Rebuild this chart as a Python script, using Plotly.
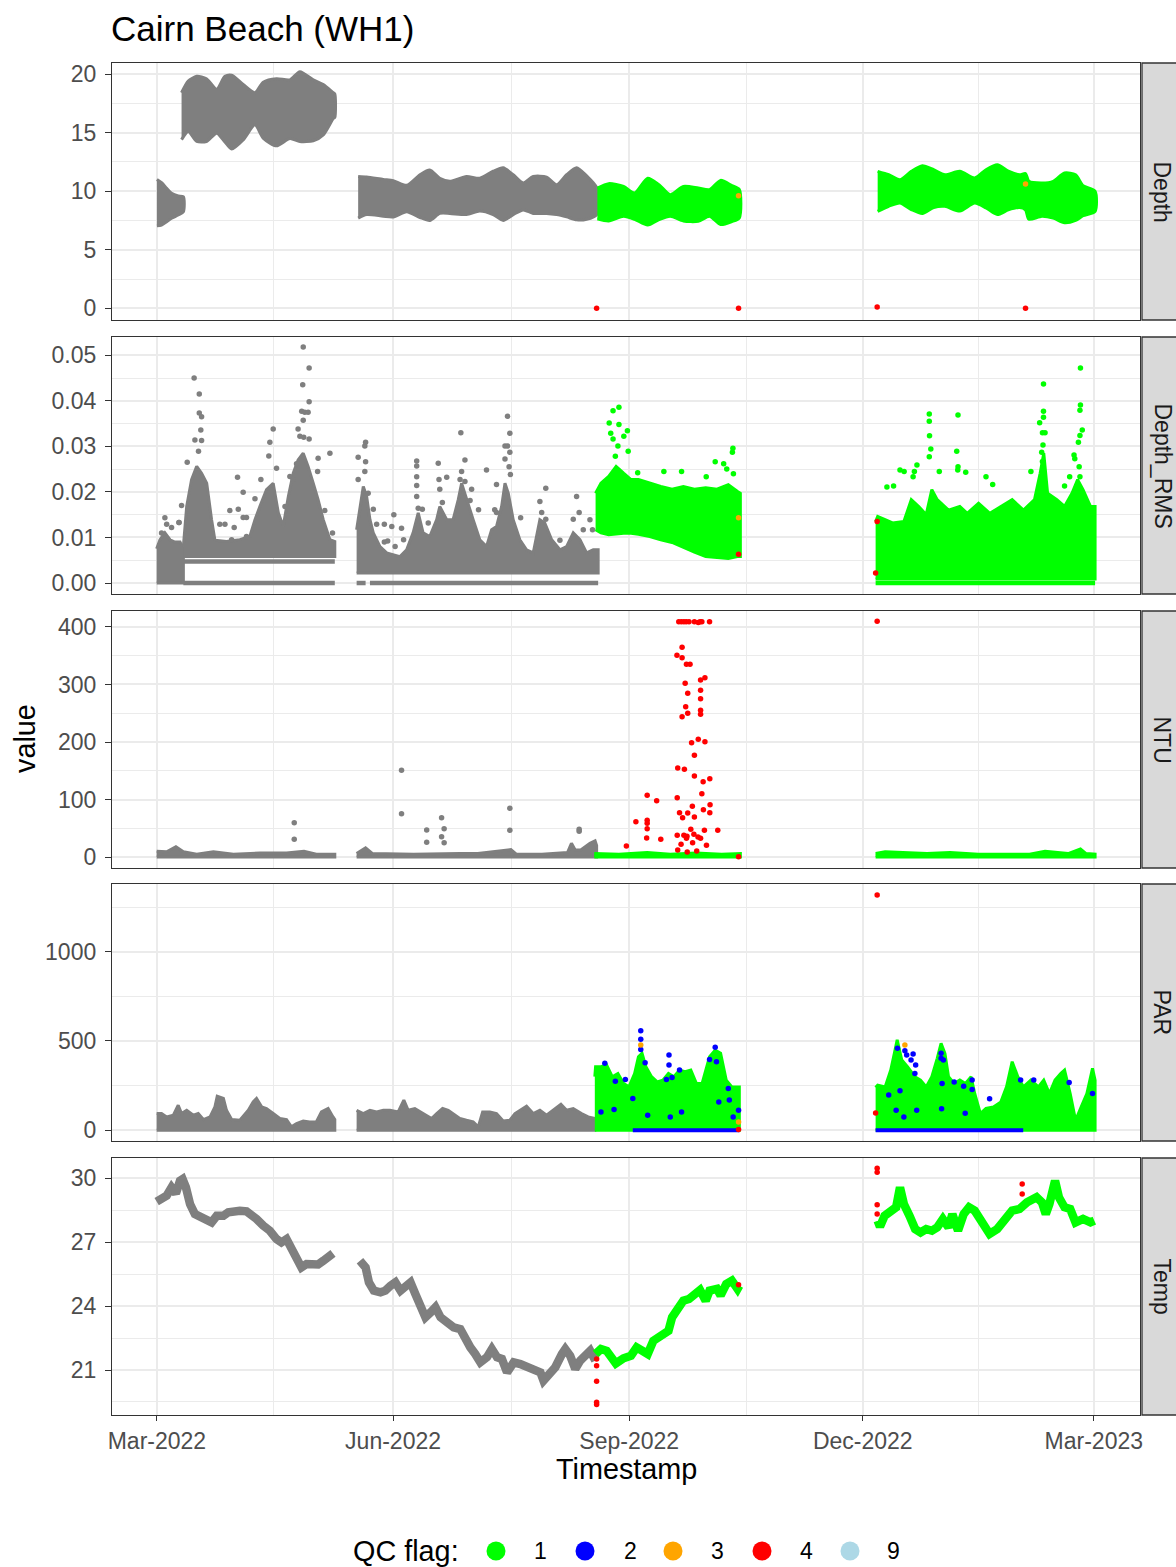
import numpy as np
import pandas as pd
import plotly.graph_objects as go
from plotly.subplots import make_subplots

BASE = pd.Timestamp("2022-03-01")


def dt(days):
    idx = BASE + pd.to_timedelta(np.asarray(days, dtype=float), unit="D")
    return list(idx.strftime("%Y-%m-%d %H:%M:%S"))


GREY = "#7F7F7F"
FLAG_COLORS = {"1": "#00FF00", "2": "#0000FF", "3": "#FFA500", "4": "#FF0000", "9": "#ADD8E6"}
G1, B2, O3, R4 = FLAG_COLORS["1"], FLAG_COLORS["2"], FLAG_COLORS["3"], FLAG_COLORS["4"]

facets = ["Depth", "Depth_RMS", "NTU", "PAR", "Temp"]

# ---------------- Depth (days since 2022-03-01, low / high envelope) ----------------
depth_a_day = [0, 1.8, 3.8, 5.7, 8.3, 10.3]
depth_a_lo = [7.05, 7.1, 7.39, 7.68, 7.96, 8.24]
depth_a_hi = [11.0, 10.72, 10.24, 9.81, 9.58, 9.52]

depth_a2_day = [9.6, 12.2, 15.5, 19.3, 23.3, 26.5, 29.1, 33.6, 38.2, 41.4, 46.6, 51.8, 55.7, 60.9, 64.8, 68.7, 69.3]
depth_a2_lo = [14.4, 15.1, 14.24, 14.24, 14.95, 14.2, 13.6, 14.38, 15.66, 14.53, 13.87, 14.5, 14.24, 14.3, 14.8, 16.2, 16.3]
depth_a2_hi = [18.4, 19.4, 19.8, 19.6, 18.7, 19.8, 19.9, 19.1, 18.4, 19.3, 19.6, 19.5, 20.2, 19.5, 19.1, 18.4, 18.3]

depth_b_day = [78.4, 81.7, 88.2, 92.1, 97.3, 102.5, 106.3, 110.2, 114.1, 120.6, 125.8, 131, 134.9, 138.8,
               142.7, 146.6, 151.8, 155.7, 159.6, 163.5, 167.4, 171.3]
depth_b_lo = [7.7, 8.0, 7.86, 7.8, 8.25, 7.75, 7.5, 8.1, 8.1, 8.0, 8.3, 8.0, 7.5, 8.0, 8.4, 8.1, 8.1, 8.0,
              7.8, 7.55, 7.6, 8.0]
depth_b_hi = [11.25, 11.2, 11.0, 10.9, 10.5, 11.4, 11.8, 11.1, 10.85, 11.25, 11.1, 11.7, 12.0, 11.4, 10.7,
              11.25, 11.2, 10.55, 11.4, 12.0, 11.3, 10.3]

depth_c_day = [171.6, 176, 181.8, 186.1, 191.2, 195.6, 200, 205.1, 210.9, 215.3, 219.6, 224, 226.9]
depth_c_lo = [7.63, 7.45, 7.86, 7.6, 7.1, 7.57, 7.86, 7.45, 7.43, 7.86, 7.15, 7.4, 7.72]
depth_c_hi = [10.27, 10.64, 10.4, 9.84, 11.1, 10.55, 9.7, 10.4, 10.27, 10.13, 10.92, 10.47, 10.13]

depth_d_day = [280.8, 285.1, 289.5, 293.9, 298.2, 302.6, 307, 312.8, 318.6, 323, 327.4, 331.7, 336.1, 338.4,
               339.7, 344.8, 349.2, 353.6, 357.9, 360.8, 365.5]
depth_d_lo = [8.28, 8.71, 8.99, 8.43, 8.09, 8.6, 8.7, 8.3, 8.99, 8.57, 8.0, 8.4, 8.6, 8.4, 7.6, 7.86, 7.7,
              7.3, 7.5, 7.9, 8.28]
depth_d_hi = [11.69, 11.4, 10.98, 11.69, 12.17, 11.83, 11.4, 11.69, 11.12, 11.83, 12.26, 11.7, 11.4, 11.5,
              10.85, 10.7, 10.84, 11.55, 11.4, 10.47, 9.98]

depth_red_day = [171.3, 226.6, 280.6, 338.4]
depth_red_val = [0.0, 0.0, 0.1, 0.0]
depth_orange_day = [226.6, 338.4]
depth_orange_val = [9.6, 10.6]

# ---------------- Depth_RMS ----------------
rms_a_day = [-0.1, 1.2, 3.1, 5.1, 7.0, 9.0, 10.3]
rms_a_hi = [0.0075, 0.0095, 0.011, 0.0095, 0.009, 0.009, 0.0075]
rms_a_pts_day = [1.8, 3.1, 3.8, 5.7, 8.6]
rms_a_pts_val = [0.0110, 0.0143, 0.0129, 0.0122, 0.0133]

rms_a2_span = [10.3, 69.3]
rms_a2_levels = [0.0, 0.0047]
rms_a2_day = [10.3, 11.6, 13.5, 15.5, 17.4, 19.4, 21.3, 22.6, 27.1, 32.3, 36.2, 38.2, 40.1, 42.7, 45.3, 47.3,
              49.2, 51.2, 53.1, 55, 57, 58.9, 60.9, 62.8, 64.8, 67.4, 69.3]
rms_a2_hi = [0.008, 0.0168, 0.0227, 0.0256, 0.0241, 0.0219, 0.0139, 0.0094, 0.0091, 0.0095, 0.0102, 0.0139,
             0.0168, 0.0205, 0.0219, 0.0154, 0.0124, 0.019, 0.0241, 0.027, 0.0285, 0.0256, 0.0219, 0.0183,
             0.0139, 0.0095, 0.0091]
rms_a2_lo = 0.0058
rms_a2_pts_day = [14.5, 16.5, 16.5, 17.4, 17.1, 14.8, 17.4, 16.2, 11.8, 9.6, 8.6, 31.4, 33.6, 28.4, 31.7, 33.6,
                  34.9, 24.5, 26.5, 30.1, 29.1, 34.9, 45.3, 44.0, 46.6, 43.6, 40.5, 38.2, 49.9, 51.8, 55.0,
                  55.7, 56.8, 57.0, 59.3, 56.4, 57.6, 57.0, 59.3, 58.9, 59.3, 57.2, 62.8, 62.6, 65.4, 67.4,
                  68.4, 53.1, 54.4]
rms_a2_pts_val = [0.045, 0.0415, 0.0373, 0.0365, 0.0336, 0.0314, 0.0313, 0.0289, 0.0265, 0.017, 0.0133,
                  0.0232, 0.0199, 0.0159, 0.0162, 0.0144, 0.0144, 0.0129, 0.0129, 0.0122, 0.0095, 0.0102,
                  0.0338, 0.0309, 0.0252, 0.0279, 0.0227, 0.0185, 0.0168, 0.0234, 0.0338, 0.0322, 0.0435,
                  0.0518, 0.0472, 0.0377, 0.0375, 0.0357, 0.0398, 0.0375, 0.0316, 0.032, 0.0274, 0.0245,
                  0.0159, 0.0285, 0.011, 0.0227, 0.0262]

rms_b_base = [[77.8, 81.3], [83.0, 171.9]]
rms_b_day = [77.8, 79.1, 80.4, 81.7, 83, 84.3, 86.9, 89.5, 92.1, 94.7, 97.3, 99.8, 101.8, 103.7, 106.3, 109,
             110.2, 112.9, 115.4, 117.4, 118.7, 120.6, 123.2, 125.8, 128.4, 130.4, 132.3, 134.3, 135.6,
             136.9, 138.8, 141.4, 144, 146.6, 149.2, 151.1, 153.8, 157, 159.6, 162.2, 164.8, 167.4, 170,
             171.9]
rms_b_hi = [0.0117, 0.0168, 0.0212, 0.0190, 0.0139, 0.011, 0.008, 0.0066, 0.0062, 0.0058, 0.0073, 0.011,
            0.0154, 0.011, 0.0102, 0.0139, 0.0168, 0.0139, 0.0139, 0.0183, 0.0219, 0.0183, 0.0139, 0.0095,
            0.008, 0.0117, 0.0124, 0.0168, 0.0219, 0.0197, 0.0139, 0.0095, 0.0073, 0.0066, 0.0139, 0.0132,
            0.0095, 0.0073, 0.008, 0.011, 0.0095, 0.0066, 0.0073, 0.0073]
rms_b_lo = 0.0022
rms_b_pts_day = [81.3, 81.0, 78.4, 81.3, 78.4, 81.0, 82.3, 84.3, 85.6, 88.6, 92.3, 91.5, 95.3, 88.6, 89.9,
                 92.8, 96.1, 101.2, 101.2, 101.2, 101.2, 101.2, 101.8, 103.4, 105.7, 109.6, 109.9, 112.9,
                 110.2, 111.2, 118.4, 120.0, 118.7, 118.1, 120.0, 122.6, 122.0, 125.3, 128.4, 132.3, 131.6,
                 132.3, 136.6, 137.5, 135.6, 136.6, 137.5, 135.6, 137.2, 137.7, 141.7, 151.5, 149.2, 149.9,
                 151.5, 157.0, 163.5, 164.5, 162.2, 166.1, 168.7, 169.7]
rms_b_pts_val = [0.0309, 0.0301, 0.0276, 0.0266, 0.0227, 0.0245, 0.0197, 0.0162, 0.0129, 0.0129, 0.015,
                 0.0124, 0.012, 0.009, 0.0092, 0.008, 0.0095, 0.0268, 0.0257, 0.0233, 0.0214, 0.019, 0.0164,
                 0.0162, 0.0132, 0.0263, 0.0227, 0.0232, 0.0206, 0.0177, 0.033, 0.027, 0.0245, 0.0227,
                 0.0223, 0.0206, 0.0181, 0.0161, 0.0248, 0.0216, 0.0161, 0.0155, 0.0366, 0.0329, 0.0301,
                 0.0301, 0.0287, 0.0272, 0.0255, 0.0238, 0.0143, 0.0208, 0.0179, 0.0155, 0.014, 0.0094,
                 0.019, 0.0155, 0.014, 0.0117, 0.0139, 0.0117]

rms_c_day = [170.9, 173.0, 176.0, 178.9, 181.8, 184.7, 187.6, 192.0, 196.3, 200.7, 205.1, 209.4, 213.8,
             218.2, 222.6, 226.2, 227.3]
rms_c_lo = [0.0117, 0.011, 0.0106, 0.0108, 0.0109, 0.0109, 0.0107, 0.0102, 0.0095, 0.0089, 0.0078, 0.0068,
            0.0058, 0.0056, 0.0054, 0.0058, 0.0058]
rms_c_hi = [0.0197, 0.0219, 0.0234, 0.0256, 0.0241, 0.0227, 0.0227, 0.0219, 0.0212, 0.0206, 0.0212, 0.0206,
            0.0209, 0.0206, 0.0216, 0.0201, 0.0197]
rms_c_pts_day = [180.0, 177.7, 176.2, 176.8, 180.0, 183.3, 181.9, 177.7, 179.6, 183.6, 178.6, 224.4, 224.2,
                 217.5, 220.8, 222.0, 224.6, 197.5, 204.4, 187.3, 214.0]
rms_c_pts_val = [0.0386, 0.0378, 0.0351, 0.0329, 0.0348, 0.0334, 0.0322, 0.0316, 0.0301, 0.0289, 0.0278,
                 0.0296, 0.0287, 0.0266, 0.0262, 0.025, 0.024, 0.0245, 0.0245, 0.0242, 0.0233]
rms_d_base = [280.0, 365.5]
rms_d_day = [280.0, 280.8, 283.7, 286.6, 291, 293.9, 296.8, 299.7, 301.9, 304, 308.4, 312.8, 315.7, 320.1,
             324.5, 328.8, 333.2, 337.6, 341.9, 344.1, 345.5, 347, 350.6, 353.6, 356.5, 358.7, 360.8,
             363.7, 365.5]
rms_d_hi = [0.0135, 0.0146, 0.0139, 0.0132, 0.0135, 0.0183, 0.0168, 0.015, 0.0205, 0.0183, 0.016, 0.0168,
            0.0153, 0.0175, 0.0153, 0.0168, 0.0183, 0.016, 0.0183, 0.0241, 0.0285, 0.0197, 0.0183, 0.0168,
            0.0197, 0.0227, 0.0205, 0.0168, 0.0168]
rms_d_lo = 0.0009
rms_d_pts_day = [359.8, 345.4, 359.8, 359.6, 360.5, 359.6, 359.0, 357.3, 357.6, 359.3, 359.6, 345.4, 345.4,
                 343.9, 345.0, 346.0, 345.2, 344.7, 345.0, 340.5, 353.6, 355.6, 300.9, 300.9, 312.1, 301.0,
                 301.5, 300.9, 311.6, 312.1, 312.0, 289.5, 291.1, 296.1, 295.1, 294.6, 304.8, 315.1, 323.0,
                 325.6, 284.4, 287.0]
rms_d_pts_val = [0.0472, 0.0437, 0.0391, 0.0379, 0.0336, 0.0324, 0.0309, 0.0281, 0.0273, 0.0255, 0.0233,
                 0.0377, 0.0364, 0.0352, 0.033, 0.033, 0.0303, 0.0287, 0.0267, 0.0245, 0.0213, 0.0233,
                 0.0371, 0.0355, 0.0369, 0.0323, 0.0294, 0.0277, 0.0289, 0.0255, 0.0248, 0.0248, 0.0245,
                 0.0259, 0.0245, 0.0233, 0.0245, 0.0243, 0.0233, 0.0216, 0.0211, 0.0213]
rms_red_day = [226.6, 280.6, 280.0]
rms_red_val = [0.0063, 0.0135, 0.0022]
rms_orange_day = [226.6]
rms_orange_val = [0.0143]

# ---------------- NTU ----------------
ntu_a_day = [-0.1, 3.8, 7.4, 10.3, 15.5, 22.0, 29.8, 40.1, 50.5, 57.3, 62.1, 69.3]
ntu_a_hi = [10, 9, 18, 9, 5, 9, 5, 7, 7, 10, 5, 5]
ntu_a_pts_day = [53.5, 53.5]
ntu_a_pts_val = [59.7, 30.7]
ntu_b_day = [77.8, 81.3, 84.0, 100.0, 118.0, 125.0, 137.9, 140.0, 150.0, 160.0, 161.5, 163.0, 165.0, 167.0,
             168.7, 170.7, 171.3]
ntu_b_hi = [6, 16, 6, 5, 6, 6, 13, 5, 5, 8, 24, 12, 12, 18, 24, 28, 20]
ntu_b_pts_day = [95.3, 95.3, 105.1, 105.1, 110.9, 111.9, 110.9, 111.9, 137.5, 137.5, 164.5, 164.5]
ntu_b_pts_val = [150.7, 75.3, 47.0, 25.5, 68.4, 49.3, 35.4, 24.9, 84.6, 46.4, 48.1, 44.6]
ntu_c_day = [170.4, 180.0, 191.0, 200.0, 210.0, 220.0, 227.3]
ntu_c_hi = [6, 5, 8, 5, 7, 5, 6]
ntu_d_day = [280.0, 283.7, 300.0, 309.0, 320.0, 340.0, 346.0, 355.0, 359.8, 362.0, 365.5]
ntu_d_hi = [6, 9, 6, 8, 5, 5, 10, 6, 14, 6, 5]
ntu_red_day = [203.3, 204.3, 205.3, 206.2, 207.3, 209.4, 210.9, 211.6, 212.3, 215.3,
               204.6, 202.6, 204.6, 206.3, 207.7, 213.5, 211.8, 205.8, 211.8, 206.8, 211.8, 206.0, 211.8,
               211.8, 206.8, 204.6, 208.3, 210.9, 213.5, 209.4, 202.9, 205.5, 209.4, 215.4, 212.8, 191.0,
               194.7, 202.7, 212.3, 215.5, 208.6, 212.9, 203.6, 204.8, 206.8, 209.4, 215.4, 191.0, 191.0,
               191.0, 186.6, 218.5, 213.3, 208.0, 202.7, 205.3, 206.5, 209.2, 210.8, 211.8, 190.8, 196.3,
               182.9, 204.2, 206.3, 214.1, 208.7, 202.9, 206.6, 210.3, 226.6, 280.6]
ntu_red_val = [409, 409, 409, 409, 409, 409, 408, 409, 409, 409,
               364.6, 350.7, 346.7, 335.1, 335.1, 311.9, 307.8, 302.0, 289.9, 284.6, 275.3, 261.4, 255.1,
               248.2, 249.9, 244.0, 198.8, 204.7, 200.5, 176.9, 154.8, 152.5, 140.9, 136.2, 131.0, 107.3,
               98.0, 103.1, 110.1, 91.0, 88.1, 82.3, 77.1, 68.4, 76.5, 69.6, 77.1, 63.8, 58.6, 49.3, 61.4,
               46.4, 46.4, 48.1, 37.7, 37.7, 36.0, 39.5, 35.0, 32.5, 33.0, 30.7, 19.1, 22.0, 32.5, 20.3,
               24.9, 12.2, 8.7, 10.4, 0.5, 410.0]

# ---------------- PAR ----------------
par_a_day = [-0.1, 1.8, 3.8, 6.4, 8.3, 9.6, 11.6, 14.2, 16.1, 18.1, 20.7, 22.6, 23.5, 25.9, 27.1, 29.1, 32.3,
             35.6, 37.5, 38.8, 40.8, 42.7, 45.3, 47.9, 50.5, 52.4, 54.4, 57, 59.5, 62.1, 64.1, 66.7, 68.6,
             69.3]
par_a_hi = [94, 94, 75, 84, 140, 94, 112, 84, 94, 60, 75, 131, 191, 178, 112, 60, 56, 112, 159, 178, 131,
            122, 94, 66, 60, 19, 37, 52, 47, 47, 103, 122, 75, 60]
par_b_day = [77.8, 80.4, 83, 85.6, 88.2, 90.8, 94, 96.2, 97.9, 100.5, 103.7, 107, 109, 111.3, 113.5, 115.4,
             118, 120.6, 123.2, 125.2, 126.9, 129.7, 132.3, 134.9, 137.5, 139.5, 141.4, 144, 146.6, 149.2,
             151.8, 154.4, 157.4, 159.6, 162.2, 165.4, 168, 170.6]
par_b_hi = [112, 94, 112, 103, 112, 112, 103, 169, 112, 122, 94, 66, 94, 122, 112, 94, 66, 56, 47, 19, 103,
            103, 94, 52, 56, 94, 112, 135, 94, 112, 84, 112, 146, 112, 122, 94, 75, 66]
par_c_day = [170.6, 170.9, 173.0, 175.2, 177.4, 179.6, 181.8, 183.9, 186.1, 187.6, 189.0, 190.5, 192.7,
             194.9, 197.1, 199.3, 201.4, 203.6, 205.8, 208.0, 210.2, 212.4, 215.3, 217.5, 219.6, 221.8,
             224.0, 226.2, 226.9]
par_c_hi = [300, 356, 356, 365, 300, 318, 262, 243, 318, 412, 431, 356, 300, 271, 281, 318, 300, 337, 328,
            337, 262, 262, 412, 449, 431, 281, 243, 243, 243]
par_d_day = [280.0, 280.8, 283.7, 285.9, 287.3, 288.4, 290.2, 292.4, 295.3, 297.5, 299.7, 301.9, 304, 305.5,
             307, 308.4, 310.6, 312.8, 315, 317.2, 318.6, 320.8, 323, 325.9, 328.8, 331, 333.2, 335.4,
             337.6, 340.5, 343.4, 345.5, 347.7, 349.9, 352.1, 353.6, 355.8, 357.9, 360.1, 362.3, 364.5,
             365.5]
par_d_hi = [240, 253, 243, 337, 431, 506, 393, 356, 300, 281, 243, 300, 403, 487, 431, 300, 262, 281, 262,
            300, 206, 94, 122, 131, 159, 243, 384, 300, 243, 281, 243, 281, 206, 281, 318, 337, 206, 56,
            131, 206, 347, 281]
par_blue_zero = [[185.4, 227.0], [280.0, 337.5]]
par_blue_day = [188.5, 188.5, 188.5, 199.5, 199.5, 217.5, 215.3, 218.0, 190.2, 174.5, 178.6, 182.5, 198.5,
                200.7, 203.6, 222.6, 223.0, 185.4, 173.0, 178.1, 218.9, 226.6, 191.2, 200.0, 204.4, 224.5,
                288.5, 291.4, 292.1, 294.6, 293.8, 295.6, 295.3, 305.5, 305.5, 306.4, 305.9, 310.6, 314.3,
                317.6, 317.6, 324.4, 336.5, 341.6, 355.4, 364.5, 289.5, 285.1, 288.0, 296.0, 305.7, 314.9,
                291.0]
par_blue_val = [558, 510, 453, 421, 365, 465, 397, 384, 378, 375, 275, 285, 285, 296, 337, 234, 169, 178,
                103, 116, 159, 112, 84, 75, 103, 75, 459, 446, 421, 427, 393, 365, 318, 431, 403, 393, 262,
                271, 247, 281, 229, 176, 281, 281, 268, 206, 221, 197, 112, 112, 120, 95, 75]
par_orange_day = [188.5, 226.6, 291.4]
par_orange_val = [478, 47, 478]
par_red_day = [226.6, 280.6, 280.0]
par_red_val = [4, 1318, 97]

# ---------------- Temp ----------------
temp_a_day = [-0.1, 1.8, 3.8, 5.7, 7.4, 9.0, 10.0, 11.3, 12.9, 14.8, 16.8, 19.4, 21.3, 23.3, 25.9, 27.8,
              29.8, 32.3, 34.9, 36.9, 38.8, 41.4, 44, 46.6, 48.5, 50.5, 52.4, 54.4, 56.3, 58.3, 60.9, 62.8,
              64.8, 66.7, 68.6]
temp_a_val = [28.89, 29.06, 29.17, 29.56, 29.28, 29.87, 29.95, 29.56, 28.78, 28.31, 28.16, 28.0, 27.92,
              28.23, 28.23, 28.39, 28.47, 28.47, 28.44, 28.31, 28.08, 27.77, 27.53, 27.14, 26.98, 27.14,
              26.67, 26.2, 25.81, 25.97, 25.9, 25.95, 26.12, 26.36, 26.47]
temp_b_day = [79.1, 81.3, 82.6, 84.5, 87.1, 89, 91, 92.9, 94.9, 96.8, 98.8, 100.7, 102.7, 104.6, 106.6,
              108.5, 110.5, 113, 115.6, 118.2, 120.1, 122.1, 124, 126, 128.6, 130.5, 132.5, 134.4, 136.4,
              139, 141.6, 144.2, 146.8, 149.4, 150.6, 152.6, 155.2, 157.8, 159.1, 161, 163, 164.9, 166.9,
              168.8, 170.8]
temp_b_val = [26.12, 25.81, 25.11, 24.72, 24.64, 24.72, 24.95, 25.11, 24.72, 24.95, 25.11, 24.56, 23.86,
              23.47, 23.7, 23.94, 23.47, 23.23, 23.0, 22.92, 22.45, 22.06, 21.75, 21.36, 21.6, 21.98, 21.6,
              21.52, 20.89, 21.36, 21.28, 21.13, 21.05, 20.89, 20.5, 20.81, 21.13, 21.75, 21.98, 21.67,
              21.05, 21.44, 21.67, 21.9, 21.44]
temp_c_day = [170.9, 173, 175.2, 177.4, 178.8, 181.8, 184.7, 186.9, 189, 191.2, 193.4, 196.3, 199.3, 200.7,
              202.9, 205.1, 207.3, 209.4, 211.6, 213.8, 215.3, 218.2, 219.6, 221.8, 224, 226.2, 226.9]
temp_c_val = [21.75, 21.98, 21.9, 21.52, 21.31, 21.55, 21.67, 22.06, 21.94, 21.75, 22.37, 22.61, 22.84,
              23.47, 23.81, 24.25, 24.33, 24.48, 24.75, 24.25, 24.72, 24.8, 24.5, 25.03, 25.19, 24.8, 24.95]
temp_d_day = [280.8, 281.7, 283.5, 285.1, 288, 289.5, 291, 293.2, 295.4, 297.5, 299.7, 301.9, 304, 306.2,
              308.4, 309.9, 312.1, 314.3, 316.4, 318.6, 321.5, 324.4, 327.4, 330.3, 333.2, 336.1, 339, 342.7,
              344.8, 346.3, 347.7, 349.9, 351.4, 353.6, 355.8, 357.9, 360.8, 363.7, 365.2]
temp_d_val = [28.0, 27.72, 28.23, 28.39, 28.63, 29.56, 28.78, 28.23, 27.61, 27.45, 27.61, 27.53, 27.69,
              28.08, 27.69, 28.31, 27.53, 28.31, 28.63, 28.47, 28.0, 27.38, 27.61, 28.08, 28.47, 28.55,
              28.86, 29.1, 28.86, 28.31, 28.78, 29.87, 29.1, 28.63, 28.55, 27.92, 28.08, 27.92, 28.0]
temp_red_day = [171.3, 171.3, 171.3, 171.3, 171.3, 226.6, 280.6, 280.6, 280.6, 280.6, 337.1, 337.1]
temp_red_val = [21.52, 21.2, 20.47, 19.49, 19.38, 25.0, 30.46, 30.27, 28.75, 28.31, 29.72, 29.25]

# ---------------- axes ----------------
x_range_days = [-17.5, 383.0]
x_tick_days = [0, 92, 184, 275, 365]
x_tick_text = ["Mar-2022", "Jun-2022", "Sep-2022", "Dec-2022", "Mar-2023"]
x_minor_days = [45.5, 138, 229.5, 320]

y_ranges = [[-1.0, 20.94], [-0.00241, 0.0540], [-19.1, 427.8], [-60.0, 1379.0], [18.89, 30.94]]
y_ticks = [[0, 5, 10, 15, 20], [0, 0.01, 0.02, 0.03, 0.04, 0.05], [0, 100, 200, 300, 400], [0, 500, 1000],
           [21, 24, 27, 30]]
y_tick_text = [["0", "5", "10", "15", "20"], ["0.00", "0.01", "0.02", "0.03", "0.04", "0.05"],
               ["0", "100", "200", "300", "400"], ["0", "500", "1000"], ["21", "24", "27", "30"]]
y_minor = [[2.5, 7.5, 12.5, 17.5], [0.005, 0.015, 0.025, 0.035, 0.045], [50, 150, 250, 350],
           [250, 750, 1250], [19.5, 22.5, 25.5, 28.5]]

# ---------------- figure ----------------
W, H = 1176, 1567
fig = make_subplots(rows=5, cols=1, shared_xaxes=True)


def band(row, days, lo, hi, color, lw=3.0, smooth=False):
    if np.isscalar(lo):
        lo = [lo] * len(days)
    x = dt(days) + dt(days[::-1])
    y = list(hi) + list(lo)[::-1]
    line = dict(color=color, width=lw)
    if smooth:
        line.update(shape="spline", smoothing=0.7)
    fig.add_trace(go.Scatter(x=x, y=y, mode="lines", fill="toself", fillcolor=color,
                             line=line, hoverinfo="skip", showlegend=False),
                  row=row, col=1)


def hline(row, span, val, color, lw=4.5):
    fig.add_trace(go.Scatter(x=dt(span), y=[val, val], mode="lines", line=dict(color=color, width=lw),
                             hoverinfo="skip", showlegend=False), row=row, col=1)


def pts(row, days, vals, color, size=5.5):
    fig.add_trace(go.Scatter(x=dt(days), y=vals, mode="markers",
                             marker=dict(color=color, size=size, line=dict(width=0)),
                             hoverinfo="skip", showlegend=False), row=row, col=1)


def curve(row, days, vals, color, lw=8.5):
    fig.add_trace(go.Scatter(x=dt(days), y=vals, mode="lines",
                             line=dict(color=color, width=lw, shape="linear"),
                             hoverinfo="skip", showlegend=False), row=row, col=1)


# Depth
band(1, depth_a_day, depth_a_lo, depth_a_hi, GREY, smooth=True)
band(1, depth_a2_day, depth_a2_lo, depth_a2_hi, GREY, smooth=True)
band(1, depth_b_day, depth_b_lo, depth_b_hi, GREY, smooth=True)
band(1, depth_c_day, depth_c_lo, depth_c_hi, G1, smooth=True)
band(1, depth_d_day, depth_d_lo, depth_d_hi, G1, smooth=True)
pts(1, depth_orange_day, depth_orange_val, O3)
pts(1, depth_red_day, depth_red_val, R4)

# Depth_RMS
band(2, rms_a_day, 0.0, rms_a_hi, GREY)
pts(2, rms_a_pts_day, rms_a_pts_val, GREY)
for lvl in rms_a2_levels:
    hline(2, rms_a2_span, lvl, GREY)
band(2, rms_a2_day, rms_a2_lo, rms_a2_hi, GREY)
pts(2, rms_a2_pts_day, rms_a2_pts_val, GREY)
for span in rms_b_base:
    hline(2, span, 0.0, GREY)
band(2, rms_b_day, rms_b_lo, rms_b_hi, GREY)
pts(2, rms_b_pts_day, rms_b_pts_val, GREY)
band(2, rms_c_day, rms_c_lo, rms_c_hi, G1)
pts(2, rms_c_pts_day, rms_c_pts_val, G1)
hline(2, rms_d_base, 0.0, G1)
band(2, rms_d_day, rms_d_lo, rms_d_hi, G1)
pts(2, rms_d_pts_day, rms_d_pts_val, G1)
pts(2, rms_orange_day, rms_orange_val, O3)
pts(2, rms_red_day, rms_red_val, R4)

# NTU
band(3, ntu_a_day, 0.0, ntu_a_hi, GREY)
pts(3, ntu_a_pts_day, ntu_a_pts_val, GREY)
band(3, ntu_b_day, 0.0, ntu_b_hi, GREY)
pts(3, ntu_b_pts_day, ntu_b_pts_val, GREY)
band(3, ntu_c_day, 0.0, ntu_c_hi, G1)
band(3, ntu_d_day, 0.0, ntu_d_hi, G1)
pts(3, ntu_red_day, ntu_red_val, R4)

# PAR
band(4, par_a_day, 0.0, par_a_hi, GREY)
band(4, par_b_day, 0.0, par_b_hi, GREY)
band(4, par_c_day, 0.0, par_c_hi, G1)
band(4, par_d_day, 0.0, par_d_hi, G1)
for span in par_blue_zero:
    hline(4, span, 0.0, B2, lw=4)
pts(4, par_blue_day, par_blue_val, B2)
pts(4, par_orange_day, par_orange_val, O3)
pts(4, par_red_day, par_red_val, R4)

# Temp
curve(5, temp_a_day, temp_a_val, GREY)
curve(5, temp_b_day, temp_b_val, GREY)
curve(5, temp_c_day, temp_c_val, G1)
curve(5, temp_d_day, temp_d_val, G1)
pts(5, temp_red_day, temp_red_val, R4)

# ---------------- layout ----------------
FONT = "Liberation Sans, Arial, Helvetica, sans-serif"
panel_px = [(63, 320), (337, 594), (611, 868), (884, 1141), (1158, 1415)]
x_dom = [112 / W, 1140 / W]

layout = dict(width=W, height=H, margin=dict(l=0, r=0, t=0, b=0), paper_bgcolor="white",
              plot_bgcolor="white", font=dict(family=FONT, color="#000000"), showlegend=False,
              hovermode=False)
fig.update_layout(**layout)

for i in range(5):
    top, bot = panel_px[i]
    ydom = [1 - bot / H, 1 - top / H]
    sfx = "" if i == 0 else str(i + 1)
    bottom = i == 4
    fig.layout["xaxis" + sfx].update(
        domain=x_dom, range=dt(x_range_days), showline=True, mirror=True, linecolor="#333333",
        linewidth=1.3, showgrid=True, gridcolor="#EBEBEB", gridwidth=2, zeroline=False,
        tickvals=dt(x_tick_days), ticktext=x_tick_text, showticklabels=bottom,
        ticks="outside" if bottom else "", ticklen=5, tickwidth=1.3, tickcolor="#333333",
        tickfont=dict(size=23, color="#4D4D4D", family=FONT),
        minor=dict(tickvals=dt(x_minor_days), showgrid=True, gridcolor="#EBEBEB", gridwidth=1, ticks=""),
        automargin=False, layer="above traces")
    fig.layout["yaxis" + sfx].update(
        domain=ydom, range=y_ranges[i], showline=True, mirror=True, linecolor="#333333", linewidth=1.3,
        showgrid=True, gridcolor="#EBEBEB", gridwidth=2, zeroline=False, tickvals=y_ticks[i],
        ticktext=y_tick_text[i], ticks="outside", ticklen=6, tickwidth=1.3, tickcolor="#333333",
        tickfont=dict(size=23, color="#4D4D4D", family=FONT), ticklabelstandoff=4,
        minor=dict(tickvals=y_minor[i], showgrid=True, gridcolor="#EBEBEB", gridwidth=1, ticks=""),
        automargin=False, layer="above traces")

shapes = []
annotations = []
for i, name in enumerate(facets):
    top, bot = panel_px[i]
    shapes.append(dict(type="rect", xref="paper", yref="paper", x0=1142 / W, x1=1.05,
                       y0=1 - bot / H, y1=1 - top / H, fillcolor="#D9D9D9",
                       line=dict(color="#333333", width=1.3), layer="above"))
    annotations.append(dict(text=name, xref="paper", yref="paper", x=1162 / W, y=1 - (top + bot) / 2 / H,
                            showarrow=False, textangle=90, font=dict(size=23, color="#1A1A1A", family=FONT),
                            xanchor="center", yanchor="middle"))

annotations.append(dict(text="Cairn Beach (WH1)", xref="paper", yref="paper", x=109 / W, y=1 - 28 / H,
                        showarrow=False, xanchor="left", yanchor="middle",
                        font=dict(size=35, color="#000000", family=FONT)))
annotations.append(dict(text="value", xref="paper", yref="paper", x=25 / W, y=1 - 739 / H, showarrow=False,
                        textangle=-90, xanchor="center", yanchor="middle",
                        font=dict(size=28.8, color="#000000", family=FONT)))
annotations.append(dict(text="Timestamp", xref="paper", yref="paper", x=626 / W, y=1 - 1469 / H,
                        showarrow=False, xanchor="center", yanchor="middle",
                        font=dict(size=28.8, color="#000000", family=FONT)))

# legend (QC flag)
legend_labels = ["1", "2", "3", "4", "9"]
legend_dot_px = [496, 585, 673, 762, 850]
legend_txt_px = [540, 630, 717, 806, 893]
LY = 1551
annotations.append(dict(text="QC flag:", xref="paper", yref="paper", x=351 / W, y=1 - LY / H,
                        showarrow=False, xanchor="left", yanchor="middle",
                        font=dict(size=28.8, color="#000000", family=FONT)))
r = 9.5
for lab, dx, tx in zip(legend_labels, legend_dot_px, legend_txt_px):
    shapes.append(dict(type="circle", xref="paper", yref="paper", x0=(dx - r) / W, x1=(dx + r) / W,
                       y0=1 - (LY + r) / H, y1=1 - (LY - r) / H, fillcolor=FLAG_COLORS[lab],
                       line=dict(width=0)))
    annotations.append(dict(text=lab, xref="paper", yref="paper", x=tx / W, y=1 - LY / H, showarrow=False,
                            xanchor="center", yanchor="middle", font=dict(size=23, color="#000000", family=FONT)))

fig.update_layout(shapes=shapes, annotations=annotations)
fig.write_html("out.html")
